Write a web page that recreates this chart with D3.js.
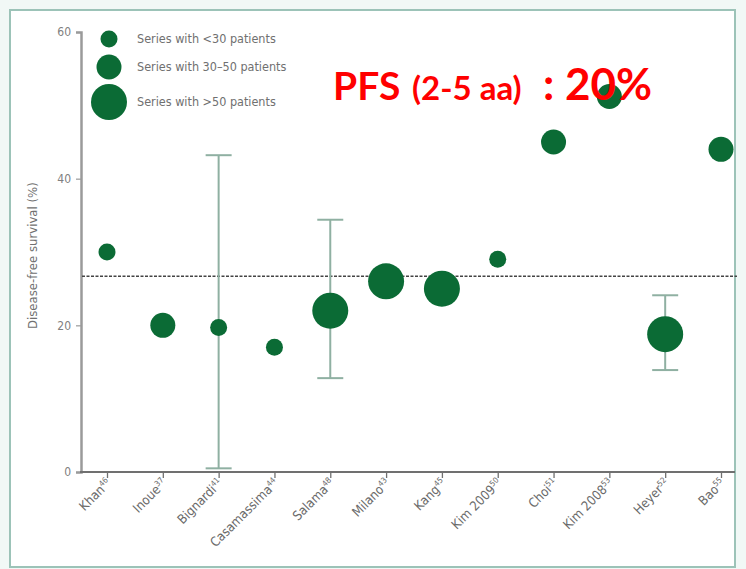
<!DOCTYPE html>
<html>
<head>
<meta charset="utf-8">
<script src="https://cdn.jsdelivr.net/npm/d3@7"></script>
<style>
  html, body { margin: 0; padding: 0; background: #f1f8f6; }
  svg { display: block; }
  .small { font-family: 'Liberation Sans Narrow', 'DejaVu Sans Condensed', sans-serif; font-stretch: condensed; }
</style>
</head>
<body>
<svg id="chart" width="746" height="569"></svg>
<script>
// Study series, disease-free survival (%) and series size class
const studies = ["Khan", "Inoue", "Bignardi", "Casamassima", "Salama", "Milano", "Kang", "Kim 2009", "Choi", "Kim 2008", "Heyer", "Bao"];
const refs = ["46", "37", "41", "44", "48", "43", "45", "50", "51", "53", "52", "55"];
const dfs = [30, 20, 19.7, 17, 22, 26, 25, 29, 45, 51.2, 18.8, 44];
const sizeClass = [0, 1, 0, 0, 2, 2, 2, 0, 1, 1, 2, 1];
const ciLow = [null, null, 0.5, null, 12.8, null, null, null, null, null, 13.9, null];
const ciHigh = [null, null, 43.2, null, 34.4, null, null, null, null, null, 24.1, null];
const pooled = 26.7;
const yTicks = [0, 20, 40, 60];
const legendLabels = ["Series with <30 patients", "Series with 30\u201350 patients", "Series with >50 patients"];

const svg = d3.select("#chart");
const green = "#0b6b35";

// panel
svg.append("rect").attr("x", 10).attr("y", 10).attr("width", 725).attr("height", 557)
  .attr("fill", "#ffffff").attr("stroke", "#9cc3b8").attr("stroke-width", 2);

const x = d3.scalePoint().domain(studies).range([107, 721]);
const y = d3.scaleLinear().domain([0, 60]).range([472, 32]);
const r = d3.scaleOrdinal().domain([0, 1, 2]).range([8.5, 12.5, 18]);

// y axis
const yAxis = svg.append("g").attr("transform", "translate(81,0)")
  .call(d3.axisLeft(y).tickValues(yTicks).tickSize(5).tickPadding(5));
yAxis.select(".domain").attr("stroke", "#9a9a9a").attr("stroke-width", 2.5);
yAxis.selectAll(".tick line").attr("stroke", "#9a9a9a").attr("stroke-width", 1.2);
yAxis.selectAll(".tick text").attr("class", "small").attr("fill", "#808080").style("font-size", "12px");

svg.append("text")
  .attr("class", "small")
  .attr("transform", `translate(37,${y(29.5)}) rotate(-90)`)
  .attr("text-anchor", "middle")
  .attr("fill", "#707070")
  .style("font-size", "13px")
  .text("Disease-free survival (%)");

// x axis
const xAxis = svg.append("g").attr("transform", `translate(0,${y(0)})`)
  .call(d3.axisBottom(x).tickSize(6).tickFormat(""));
xAxis.select(".domain").remove();
xAxis.selectAll(".tick line").attr("stroke", "#707070").attr("stroke-width", 1.3);
svg.append("line").attr("x1", 80).attr("x2", 735).attr("y1", y(0)).attr("y2", y(0))
  .attr("stroke", "#707070").attr("stroke-width", 1.8);

const xl = svg.append("g").selectAll("text").data(studies).join("text")
  .attr("class", "small")
  .attr("transform", d => `translate(${x(d) + 5},${y(0) + 12}) rotate(-45)`)
  .attr("text-anchor", "end")
  .attr("fill", "#6a6a6a")
  .style("font-size", "13px");
xl.append("tspan").text(d => d);
xl.append("tspan").attr("dy", -5).style("font-size", "8px").text((d, i) => refs[i]);

// pooled reference line
svg.append("line").attr("x1", 82).attr("x2", 737).attr("y1", y(pooled)).attr("y2", y(pooled))
  .attr("stroke", "#444").attr("stroke-width", 1.4).attr("stroke-dasharray", "3,1.5");

// confidence intervals
const ci = studies.map((s, i) => ({ s, lo: ciLow[i], hi: ciHigh[i] })).filter(d => d.lo !== null);
const ciG = svg.append("g").attr("stroke", "#8fb0a2").attr("stroke-width", 2);
ciG.selectAll("line.v").data(ci).join("line").attr("class", "v")
  .attr("x1", d => x(d.s)).attr("x2", d => x(d.s)).attr("y1", d => y(d.lo)).attr("y2", d => y(d.hi));
ciG.selectAll("line.lo").data(ci).join("line").attr("class", "lo")
  .attr("x1", d => x(d.s) - 13).attr("x2", d => x(d.s) + 13).attr("y1", d => y(d.lo)).attr("y2", d => y(d.lo));
ciG.selectAll("line.hi").data(ci).join("line").attr("class", "hi")
  .attr("x1", d => x(d.s) - 13).attr("x2", d => x(d.s) + 13).attr("y1", d => y(d.hi)).attr("y2", d => y(d.hi));

// series points
svg.append("g").selectAll("circle").data(studies).join("circle")
  .attr("cx", d => x(d)).attr("cy", (d, i) => y(dfs[i])).attr("r", (d, i) => r(sizeClass[i]))
  .attr("fill", green);

// legend
const legY = [39, 67, 102];
const leg = svg.append("g").selectAll("g").data(legendLabels).join("g")
  .attr("transform", (d, i) => `translate(109,${legY[i]})`);
leg.append("circle").attr("r", (d, i) => r(i)).attr("fill", green);
leg.append("text").attr("class", "small").attr("x", 28).attr("dy", "0.35em").attr("fill", "#707070")
  .style("font-size", "12.5px").text(d => d);

// headline
const t = svg.append("text").attr("y", 100).attr("fill", "#ff0000")
  .style("font-family", "Lato, 'Open Sans', sans-serif").style("font-weight", "bold");
t.append("tspan").attr("x", 333).style("font-size", "39px").text("PFS");
t.append("tspan").attr("x", 412).style("font-size", "33px").text("(2-5 aa)");
t.append("tspan").attr("x", 543).style("font-size", "44px").text(": 20%");
</script>
</body>
</html>
